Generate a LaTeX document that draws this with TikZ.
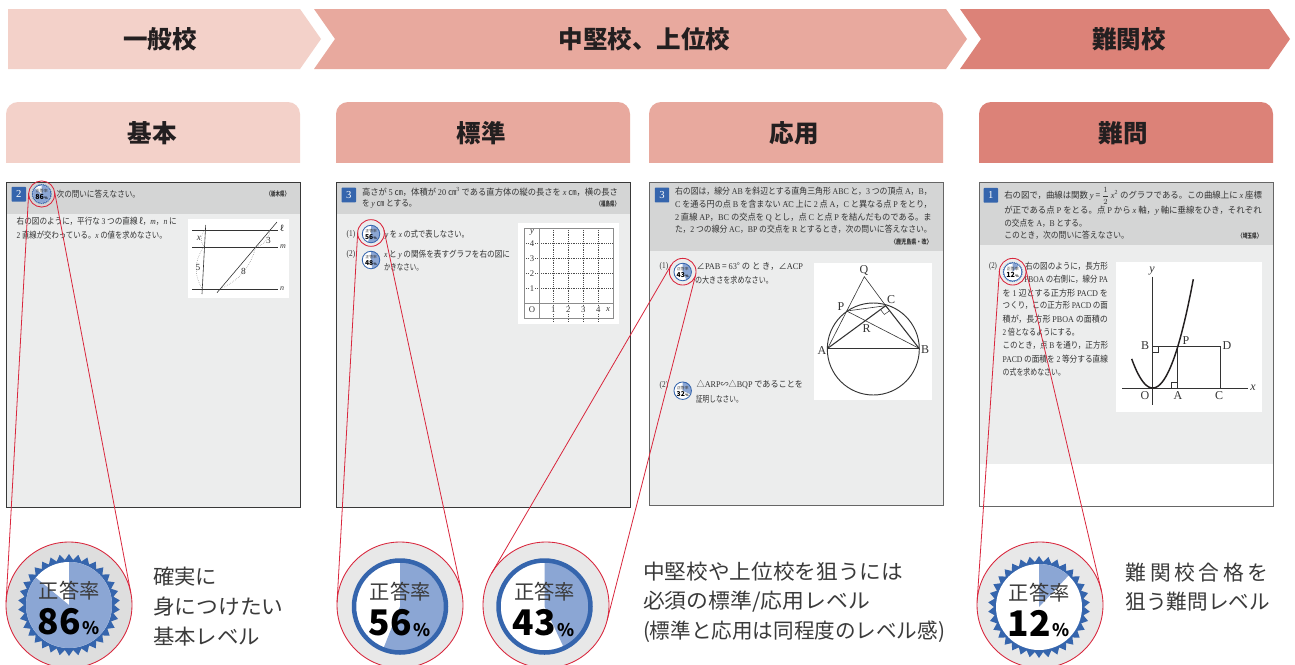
\documentclass[tikz,border=0pt]{standalone}
\usepackage{fontspec}
\usepackage{graphicx}
\usetikzlibrary{shapes.geometric}
\setmainfont{Noto Sans CJK JP}
\newfontfamily\lts{Liberation Serif}
\newlength{\pxu}\setlength{\pxu}{0.75pt}
\definecolor{lvA}{HTML}{F3D1C9}
\definecolor{lvB}{HTML}{E8A99E}
\definecolor{lvC}{HTML}{DC8278}
\definecolor{inkk}{HTML}{231F20}
\definecolor{capk}{HTML}{3A3A3A}
\definecolor{cardtxt}{HTML}{333333}
\definecolor{headg}{HTML}{D4D5D5}
\definecolor{bodyg}{HTML}{ECEDED}
\definecolor{blueA}{HTML}{3565AD}
\definecolor{pieb}{HTML}{8BA6D4}
\definecolor{redl}{HTML}{D9263C}
\newcommand{\ix}[1]{{\lts\itshape #1}}
\newcommand{\ro}[1]{{\lts #1}}
\tikzset{
 heada/.style={font=\bfseries\fontsize{18.4pt}{20pt}\selectfont,text=inkk,inner sep=0,outer sep=0},
 tx/.style={anchor=west,inner sep=0,outer sep=0,font=\fontsize{6.6pt}{8pt}\selectfont,text=cardtxt},
 captx/.style={anchor=west,inner sep=0,outer sep=0,font=\fontsize{15.6pt}{18pt}\selectfont,text=capk},
 pref/.style={anchor=west,inner sep=0,outer sep=0,font=\bfseries\fontsize{5pt}{6pt}\selectfont,text=cardtxt},
 lab/.style={inner sep=0,outer sep=0,text=cardtxt},
 glab/.style={lab,fill=white,inner sep=0.6pt,font=\lts\fontsize{6.5pt}{7pt}\selectfont},
 whitefig/.style={fill=white},
 bignum/.style={inner sep=0,outer sep=0},
 numbox/.style={fill=blueA,text=white,inner sep=0,outer sep=0,rounded corners=0.5pt,font=\lts\fontsize{8pt}{8pt}\selectfont},
 lens/.style={circle,draw=redl,line width=0.65pt,inner sep=0,outer sep=0},
 biglens/.style={lens,fill=#1,minimum size=94.5pt},
 ray/.style={draw=redl,line width=0.6pt},
 fgline/.style={draw=cardtxt,line width=0.45pt},
 fgthick/.style={draw=cardtxt,line width=0.8pt},
 framea/.style={draw=black!78,line width=0.6pt},
 frameb/.style={draw=black!60,line width=0.6pt},
}
\newcommand{\tl}[5]{\node[tx] (#1) at (#2,#3) {\resizebox{#4\pxu}{\height}{#5}};}
\newcommand{\cp}[5]{\node[captx] (#1) at (#2,#3) {\resizebox{#4\pxu}{\height}{#5}};}
\newcommand{\pf}[5]{\node[pref] (#1) at (#2,#3) {\resizebox{#4\pxu}{\height}{#5}};}
% badge: name, x, y, scale, pct, number, kind(0 ring,1 star)
\newcommand{\bdg}[7]{%
 \begin{scope}[shift={(#2,#3)}]
 \pgfmathsetmacro{\bs}{#4}
 \pgfmathsetmacro{\bR}{\bs*0.75*46}
 \ifnum#7=1
  \node[star,star points=34,star point ratio=1.13,fill=blueA,inner sep=0,outer sep=0,minimum size={2*\bs*0.75*51 pt}] (#1s) at (0,0) {};
  \fill[white] (0,0) circle[radius={\bs*0.75*43 pt}];
  \fill[pieb] (0,0) -- (90:{\bs*0.75*43 pt}) arc[start angle=90,delta angle={-3.6*#5},radius={\bs*0.75*43 pt}] -- cycle;
 \else
  \fill[white] (0,0) circle[radius=\bR pt];
  \fill[pieb] (0,0) -- (90:\bR pt) arc[start angle=90,delta angle={-3.6*#5},radius=\bR pt] -- cycle;
  \draw[blueA,line width={\bs*0.75*4.5 pt}] (0,0) circle[radius=\bR pt];
 \fi
 \node[bignum,text=capk] (#1t) at (0.2,{-14.5*#4}) {\fontsize{\dimexpr #4\dimexpr 15.2pt\relax\relax}{\dimexpr #4\dimexpr 16pt\relax\relax}\selectfont 正答率};
 \node[bignum,text=black] (#1n) at ({-10*#4},{16.5*#4}) {\fontsize{\dimexpr #4\dimexpr 26.5pt\relax\relax}{\dimexpr #4\dimexpr 30pt\relax\relax}\selectfont\bfseries #6};
 \node[bignum,text=black] (#1p) at ({22*#4},{23.5*#4}) {\fontsize{\dimexpr #4\dimexpr 13pt\relax\relax}{\dimexpr #4\dimexpr 15pt\relax\relax}\selectfont\bfseries \%};
 \end{scope}}
\begin{document}
\begin{tikzpicture}[x=0.75pt,y=-0.75pt]
\useasboundingbox (0,0) rectangle (1295,664);
\clip (0,0) rectangle (1295,664);
\fill[white] (0,0) rectangle (1295,664);
% band arrows
\fill[lvA] (8,9) -- (300,9) -- (321,39) -- (300,69) -- (8,69) -- cycle;
\fill[lvB] (314,9) -- (946,9) -- (967,39) -- (946,69) -- (314,69) -- (335,39) -- cycle;
\fill[lvC] (960,9) -- (1269,9) -- (1290,39) -- (1269,69) -- (960,69) -- (981,39) -- cycle;
\node[heada] (h1) at (160,39) {一般校};
\node[heada] (h2) at (644.5,39) {中堅校、上位校};
\node[heada] (h3) at (1129,39) {難関校};
% level tabs
\foreach \xa/\xb/\cc in {6/300/lvA,336/630/lvB,649/943/lvB,979/1273/lvC}{
 \fill[\cc,rounded corners=9pt] (\xa,102) rectangle (\xb,190);
 \fill[white] (\xa-1,163) rectangle (\xb+1,192);
}
\node[heada] (t1) at (152,133) {基本};
\node[heada] (t2) at (481,133) {標準};
\node[heada] (t3) at (794,133) {応用};
\node[heada] (t4) at (1123,133) {難問};
% cards
\fill[bodyg] (6,182) rectangle (300,507);
\fill[headg] (6,182) rectangle (300,214);
\fill[bodyg] (336,182) rectangle (630,507);
\fill[headg] (336,182) rectangle (630,214);
\fill[bodyg] (649,182) rectangle (943,505);
\fill[headg] (649,182) rectangle (943,251);
\fill[bodyg] (979,182) rectangle (1273,463.5);
\fill[headg] (979,182) rectangle (1273,245);
\draw[framea] (6,182) rectangle (300,507);
\draw[framea] (336,182) rectangle (630,507);
\draw[frameb] (649,182) rectangle (943,505);
\draw[frameb] (979,182) rectangle (1273,506);
% number boxes
\node[numbox,minimum width=10.8pt,minimum height=11pt] (nb1) at (18.8,194.3) {2};
\node[numbox,minimum width=10.8pt,minimum height=11pt] (nb2) at (348.8,195) {3};
\node[numbox,minimum width=10.8pt,minimum height=11pt] (nb3) at (662,195) {3};
\node[numbox,minimum width=10.8pt,minimum height=11pt] (nb4) at (990.8,195.3) {1};
% card 1 text
\tl{a1}{56.7}{194}{83.3}{次の問いに答えなさい。}
\pf{a2}{266.7}{194}{22.3}{〈栃木県〉}
\tl{a3}{16.7}{221.7}{160}{右の図のように，平行な \ro{3} つの直線 ℓ，\ix{m}，\ix{n} に}
\tl{a4}{16.7}{235}{150}{\ro{2} 直線が交わっている。\ix{x} の値を求めなさい。}
% card 1 figure
\fill[whitefig] (187.7,218.5) rectangle (289,298);
\draw[fgline] (192,230) -- (278,230);
\draw[fgline] (192,247) -- (278,247);
\draw[fgline] (192,289) -- (278,289);
\draw[fgline] (205.7,225) -- (202,294);
\draw[fgline] (277,222) -- (217,292.7);
\draw[black!50,densely dotted,line width=0.4pt] (205,230) to[bend right=40] (204,247);
\draw[black!50,densely dotted,line width=0.4pt] (204,247) to[bend right=35] (202.5,289);
\draw[black!50,densely dotted,line width=0.4pt] (270,230) to[bend left=35] (255.8,247);
\draw[black!50,densely dotted,line width=0.4pt] (255.8,247) to[bend left=25] (220,289);
\node[lab,font=\fontsize{6pt}{7pt}\selectfont] (f1a) at (282,228) {ℓ};
\node[lab,font=\lts\itshape\fontsize{6pt}{7pt}\selectfont] (f1b) at (283,247) {m};
\node[lab,font=\lts\itshape\fontsize{6pt}{7pt}\selectfont] (f1c) at (282,289) {n};
\node[lab,font=\lts\itshape\fontsize{7pt}{7pt}\selectfont] (f1d) at (199,238) {x};
\node[lab,font=\lts\fontsize{7pt}{7pt}\selectfont] (f1e) at (198,267) {5};
\node[lab,font=\lts\fontsize{7pt}{7pt}\selectfont] (f1f) at (268.5,240) {3};
\node[lab,font=\lts\fontsize{7pt}{7pt}\selectfont] (f1g) at (243.5,271.5) {8};
% card 2 text
\tl{b1}{362}{191.7}{256}{高さが \ro{5} ㎝，体積が \ro{20} ㎝\textsuperscript{\ro{3}} である直方体の縦の長さを \ix{x} ㎝，横の長さ}
\tl{b2}{362}{204.3}{54.7}{を \ix{y} ㎝ とする。}
\pf{b3}{596.7}{204}{22.3}{〈福島県〉}
\tl{b4}{346.7}{234.3}{8.5}{\ro{(1)}}
\tl{b5}{385}{234.3}{84}{\ix{y} を \ix{x} の式で表しなさい。}
\tl{b6}{346.7}{254.3}{8.5}{\ro{(2)}}
\tl{b7}{384}{254.3}{126}{\ix{x} と \ix{y} の関係を表すグラフを右の図に}
\tl{b8}{384}{267.7}{38.7}{かきなさい。}
% card 2 figure
\fill[whitefig] (518,222.7) rectangle (619,324);
\foreach \gy in {243.3,258.3,273.3,288.3}{\draw[black!70,densely dotted,line width=0.4pt] (524,\gy) -- (613,\gy);}
\foreach \gx in {553.3,568.3,583.3,598.3}{\draw[black!70,densely dotted,line width=0.4pt] (\gx,228) -- (\gx,322);}
\draw[black!45,line width=0.7pt] (524,228) rectangle (613,318);
\draw[black!45,line width=0.7pt] (539,228) -- (539,318);
\draw[black!45,line width=0.7pt] (524,303.3) -- (613,303.3);
\node[lab,font=\lts\itshape\fontsize{6.5pt}{7pt}\selectfont] (g1) at (532,232) {y};
\node[glab] (g2) at (532,243.3) {4};
\node[glab] (g3) at (532,258.3) {3};
\node[glab] (g4) at (532,273.3) {2};
\node[glab] (g5) at (532,288.3) {1};
\node[glab] (g6) at (532,309.5) {O};
\node[glab] (g7) at (553.3,309.5) {1};
\node[glab] (g8) at (568.3,309.5) {2};
\node[glab] (g9) at (583.3,309.5) {3};
\node[glab] (g10) at (598.3,309.5) {4};
\node[lab,font=\lts\itshape\fontsize{6.5pt}{7pt}\selectfont] (g11) at (608,309.5) {x};
% card 3 text
\tl{c1}{675}{191.7}{256.7}{右の図は，線分 \ro{AB} を斜辺とする直角三角形 \ro{ABC} と，\ro{3} つの頂点 \ro{A}，\ro{B}，}
\tl{c2}{675}{204.3}{256.7}{\ro{C} を通る円の点 \ro{B} を含まない \rlap{\raisebox{3.4pt}{\scalebox{1.5}[0.6]{$\scriptstyle\frown$}}}\ro{AC} 上に \ro{2} 点 \ro{A}，\ro{C} と異なる点 \ro{P} をとり，}
\tl{c3}{675}{217.3}{256.7}{\ro{2} 直線 \ro{AP}，\ro{BC} の交点を \ro{Q} とし，点 \ro{C} と点 \ro{P} を結んだものである。ま}
\tl{c4}{675}{229.3}{256.7}{た，\ro{2} つの線分 \ro{AC}，\ro{BP} の交点を \ro{R} とするとき，次の問いに答えなさい。}
\pf{c5}{891}{241.7}{40.7}{〈鹿児島県・改〉}
\tl{c6}{659.7}{266}{8.5}{\ro{(1)}}
\tl{c7}{696.7}{266}{106.3}{∠\ro{PAB} = \ro{63}° の と き，∠\ro{ACP}}
\tl{c8}{695}{280}{78}{の大きさを求めなさい。}
\tl{c9}{659.7}{385}{8.5}{\ro{(2)}}
\tl{c10}{696.7}{385}{106.3}{△\ro{ARP}∽△\ro{BQP} であることを}
\tl{c11}{696}{399}{46.7}{証明しなさい。}
% card 3 figure
\fill[whitefig] (814,262.7) rectangle (931.7,400);
\draw[fgline,line width=0.7pt] (873.3,349) circle[radius=34.5pt];
\draw[fgthick] (827.7,348.3) -- (919,348.3);
\draw[fgthick] (827.7,348.3) -- (885.7,305.7) -- (919,348.3);
\draw[fgline] (827.7,348.3) -- (864.3,276.7) -- (885.7,305.7);
\draw[fgline] (846.7,311) -- (919,348.3);
\draw[fgline] (846.7,311) -- (885.7,305.7);
\draw[fgline,line width=0.35pt] (880.5,309.5) -- (884.3,314.5) -- (889.6,310.7);
\node[lab,font=\lts\fontsize{9pt}{9pt}\selectfont] (k1) at (864,270) {Q};
\node[lab,font=\lts\fontsize{9pt}{9pt}\selectfont] (k2) at (891,300) {C};
\node[lab,font=\lts\fontsize{9pt}{9pt}\selectfont] (k3) at (841,307) {P};
\node[lab,font=\lts\fontsize{9pt}{9pt}\selectfont] (k4) at (822,351) {A};
\node[lab,font=\lts\fontsize{9pt}{9pt}\selectfont] (k5) at (925,350) {B};
\node[lab,font=\lts\fontsize{9pt}{9pt}\selectfont] (k6) at (866.7,329) {R};
% card 4 text
\tl{d1}{1004.3}{195.7}{257.7}{右の図で，曲線は関数 \ix{y} = \smash{\raisebox{0.4pt}{\scalebox{0.85}{$\displaystyle\frac{1}{2}$}}} \ix{x}\textsuperscript{\ro{2}} のグラフである。この曲線上に \ix{x} 座標}
\tl{d2}{1004.3}{210.3}{257.4}{が正である点 \ro{P} をとる。点 \ro{P} から \ix{x} 軸，\ix{y} 軸に垂線をひき，それぞれ}
\tl{d3}{1004.3}{223.3}{82.4}{の交点を \ro{A}，\ro{B} とする。}
\tl{d4}{1004.3}{235.7}{124.7}{このとき，次の問いに答えなさい。}
\pf{d5}{1238}{235.7}{23.7}{〈埼玉県〉}
\tl{d6}{989}{266}{8}{\ro{(2)}}
\tl{e1}{1025}{266.7}{83}{右の図のように，長方形}
\tl{e2}{1024.3}{279.7}{83.7}{\ro{PBOA} の右側に，線分 \ro{PA}}
\tl{e3}{1002.7}{292.7}{105.3}{を \ro{1} 辺とする正方形 \ro{PACD} を}
\tl{e4}{1002.7}{305.7}{105.3}{つくり，この正方形 \ro{PACD} の面}
\tl{e5}{1002.7}{319}{105.3}{積が，長方形 \ro{PBOA} の面積の}
\tl{e6}{1002.7}{332.3}{76.3}{\ro{2} 倍となるようにする。}
\tl{e7}{1002.7}{345.7}{105.3}{このとき，点 \ro{B} を通り，正方形}
\tl{e8}{1002.7}{359}{105.3}{\ro{PACD} の面積を \ro{2} 等分する直線}
\tl{e9}{1002.7}{372}{62.3}{の式を求めなさい。}
% card 4 figure
\fill[whitefig] (1116,262) rectangle (1261.7,411.7);
\draw[fgline,line width=0.6pt] (1122,388) -- (1248,388);
\draw[fgline,line width=0.6pt] (1152.7,276.7) -- (1152.7,405);
\draw[fgline,line width=0.7pt] (1152.7,346.7) -- (1220,346.7) -- (1220,388);
\draw[fgline,line width=0.7pt] (1177.3,346.7) -- (1177.3,388);
\draw[fgline,line width=0.4pt] (1152.7,352.7) -- (1158.7,352.7) -- (1158.7,346.7);
\draw[fgline,line width=0.4pt] (1171.3,388) -- (1171.3,382) -- (1177.3,382);
\draw[draw=inkk,line width=1.1pt,smooth,samples=50,domain=-21:40.6] plot ({1152.7+\x},{388-0.066*\x*\x});
\node[lab,font=\lts\itshape\fontsize{9pt}{9pt}\selectfont] (m1) at (1152,271) {y};
\node[lab,font=\lts\fontsize{9pt}{9pt}\selectfont] (m2) at (1145,346) {B};
\node[lab,font=\lts\fontsize{9pt}{9pt}\selectfont] (m3) at (1186,341) {P};
\node[lab,font=\lts\fontsize{9pt}{9pt}\selectfont] (m4) at (1227,346) {D};
\node[lab,font=\lts\fontsize{9pt}{9pt}\selectfont] (m5) at (1145,396) {O};
\node[lab,font=\lts\fontsize{9pt}{9pt}\selectfont] (m6) at (1178,396) {A};
\node[lab,font=\lts\fontsize{9pt}{9pt}\selectfont] (m7) at (1219,396) {C};
\node[lab,font=\lts\itshape\fontsize{9pt}{9pt}\selectfont] (m8) at (1253,388) {x};
% small badges
\bdg{sa}{41.7}{194}{0.2}{86}{86}{1}
\bdg{sb}{371}{234}{0.19}{56}{56}{0}
\bdg{sb2}{371}{260}{0.19}{48}{48}{0}
\bdg{sc}{682.7}{272}{0.19}{43}{43}{0}
\bdg{sc2}{682.7}{390.7}{0.19}{32}{32}{0}
\bdg{sd}{1012.7}{272}{0.2}{12}{12}{1}
% lenses
\node[lens,minimum size=19.6pt] (ls1) at (41.7,194) {};
\node[lens,minimum size=20pt] (ls2) at (371,233) {};
\node[lens,minimum size=20pt] (ls3) at (682.7,271.7) {};
\node[lens,minimum size=20pt] (ls4) at (1012.7,271.7) {};
\node[biglens=black!13] (lb1) at (69,605) {};
\node[biglens=black!9] (lb2) at (400,605) {};
\node[biglens=black!9] (lb3) at (546,605) {};
\node[biglens=black!9] (lb4) at (1040,605) {};
\draw[ray] (ls1.177) -- (lb1.177);
\draw[ray] (ls1.11) -- (lb1.11);
\draw[ray] (ls2.177) -- (lb2.177);
\draw[ray] (ls2.12) -- (lb2.12);
\draw[ray] (ls3.150) -- (lb3.150);
\draw[ray] (ls3.-14) -- (lb3.-14);
\draw[ray] (ls4.176) -- (lb4.176);
\draw[ray] (ls4.13) -- (lb4.13);
% big badges
\bdg{ba}{69}{605}{1}{86}{86}{1}
\bdg{bb}{400}{606.5}{1}{56}{56}{0}
\bdg{bc}{544.5}{606.5}{1}{43}{43}{0}
\bdg{bd}{1039}{607}{1}{12}{12}{1}
% captions
\cp{p1}{153}{577}{64}{確実に}
\cp{p2}{153}{606.7}{130.5}{身につけたい}
\cp{p3}{153}{637}{107}{基本レベル}
\cp{p4}{643}{572}{260}{中堅校や上位校を狙うには}
\cp{p5}{643}{602}{227}{必須の標準/応用レベル}
\cp{p6}{643}{632}{302}{(標準と応用は同程度のレベル感)}
\node[captx] (p7) at (1125.7,572.7) {\addfontfeatures{LetterSpace=17}難関校合格を};
\cp{p8}{1125.7}{601.7}{144.3}{狙う難問レベル}
\end{tikzpicture}
\end{document}
